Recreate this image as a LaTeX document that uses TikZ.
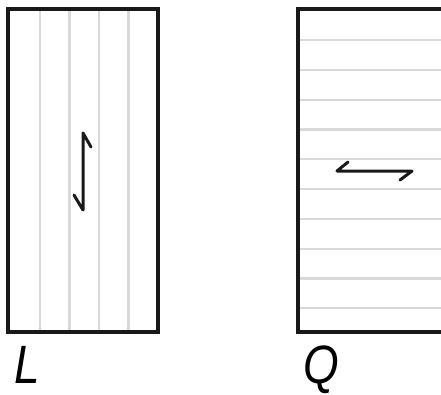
\documentclass[tikz,border=0pt]{standalone}
\usepackage{fontspec}
\setmainfont{Liberation Sans}
\begin{document}
\begin{tikzpicture}[x=1pt,y=-1pt,
  box/.style={line width=3.5pt, black!90},
  hatch/.style={line width=2.2pt, color=gray!30},
  arr/.style={line width=3pt, black!90, line cap=round, line join=round},
  lbl/.style={font=\fontsize{54}{54}\selectfont\itshape, inner sep=0pt, anchor=base west, xscale=0.85}]
\useasboundingbox (0,0) rectangle (441,394);
\foreach \x in {40,69.5,99,128.5} \draw[hatch] (\x,9) -- (\x,332);
\draw[box] (8,9) rectangle (158,332);
\foreach \k in {0,...,9} \draw[hatch] (298,{40+29.8*\k}) -- (441,{40+29.8*\k});
\draw[box] (441,9) -- (298,9) -- (298,332) -- (441,332);
\draw[arr] (91,147) -- (83,133) -- (83,210) -- (74,195);
\draw[arr] (348,162) -- (337,171) -- (412,171) -- (400,180);
\node[lbl] (L) at (14,383) {L};
\node[lbl] (Q) at (303,383) {Q};
\end{tikzpicture}
\end{document}
